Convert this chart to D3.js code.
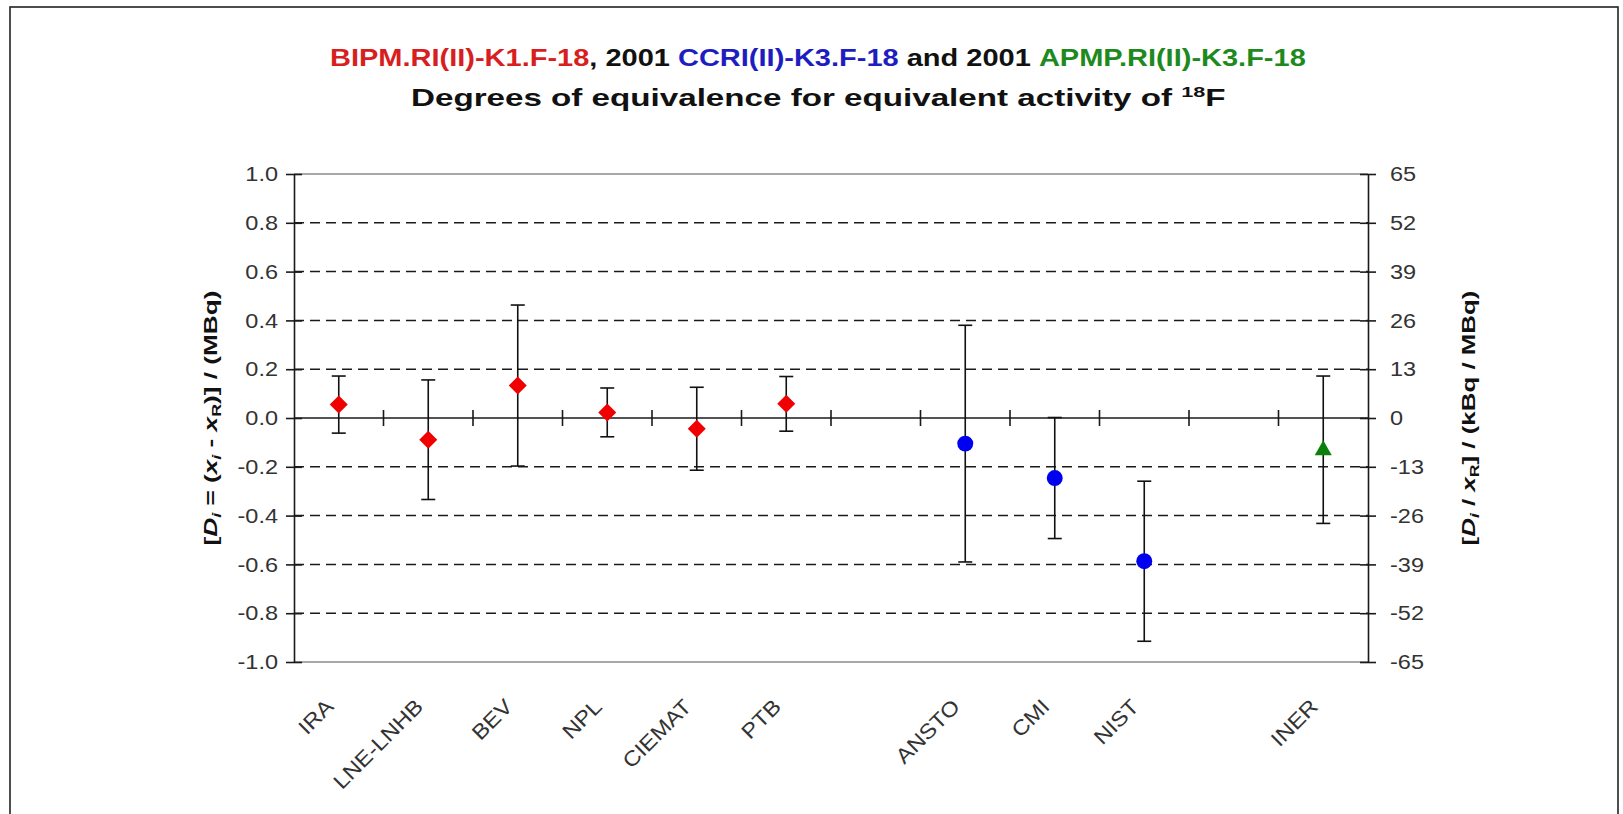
<!DOCTYPE html>
<meta charset="utf-8">
<script src="https://d3js.org/d3.v7.min.js"></script>
<style>
  body { margin: 0; background: #fff; }
  text { font-family: "Liberation Sans", Arial, sans-serif; }
</style>
<div id="chart"></div>
<script>

// categories along the x axis ("" = empty slot)
var cats = ["IRA", "LNE-LNHB", "BEV", "NPL", "CIEMAT", "PTB", "", "ANSTO", "CMI", "NIST", "", "INER"];

// BIPM.RI(II)-K1.F-18 : red diamonds
var k1Labs = ["IRA", "LNE-LNHB", "BEV", "NPL", "CIEMAT", "PTB"];
var k1D = [0.055, -0.089, 0.133, 0.023, -0.044, 0.058];
var k1U = [0.117, 0.245, 0.330, 0.100, 0.170, 0.112];

// CCRI(II)-K3.F-18 : blue circles
var ccLabs = ["ANSTO", "CMI", "NIST"];
var ccD = [-0.105, -0.246, -0.587];
var ccU = [0.485, 0.248, 0.328];

// APMP.RI(II)-K3.F-18 : green triangle
var apLabs = ["INER"];
var apD = [-0.130];
var apU = [0.302];

// tick labels
var yTicksL = [-1.0, -0.8, -0.6, -0.4, -0.2, 0.0, 0.2, 0.4, 0.6, 0.8, 1.0];
var yTicksR = [-65, -52, -39, -26, -13, 0, 13, 26, 39, 52, 65];

var W = 1623, H = 814;
var SX = 1.12;   // text in the original is rendered wider than plain Arial
var plot = {left: 294, right: 1368, top: 174, bottom: 662};

var svg = d3.select("#chart").append("svg")
    .attr("width", W)
    .attr("height", H);

// outer frame
svg.append("rect")
    .attr("x", 10).attr("y", 7)
    .attr("width", 1608).attr("height", 1000)
    .attr("fill", "none")
    .attr("stroke", "#222")
    .attr("stroke-width", 1.6);

var x = d3.scaleBand()
    .domain(d3.range(cats.length))
    .range([plot.left, plot.right]);
var bw = x.bandwidth();

var y = d3.scaleLinear().domain([-1, 1]).range([plot.bottom, plot.top]);
var yR = d3.scaleLinear().domain([-65, 65]).range([plot.bottom, plot.top]);

// dashed gridlines
svg.append("g").selectAll("line")
    .data(yTicksL.filter(function(v) { return v !== 0 && Math.abs(v) < 1; }))
    .enter().append("line")
    .attr("x1", plot.left).attr("x2", plot.right)
    .attr("y1", function(d) { return y(d); })
    .attr("y2", function(d) { return y(d); })
    .attr("stroke", "#1a1a1a")
    .attr("stroke-width", 1.5)
    .attr("stroke-dasharray", "10,6");

// grey plot border top / bottom
svg.append("g").selectAll("line")
    .data([-1, 1])
    .enter().append("line")
    .attr("x1", plot.left).attr("x2", plot.right)
    .attr("y1", function(d) { return y(d); })
    .attr("y2", function(d) { return y(d); })
    .attr("stroke", "#8a8a8a")
    .attr("stroke-width", 1.6);

// zero line with category ticks
svg.append("line")
    .attr("x1", plot.left).attr("x2", plot.right)
    .attr("y1", y(0)).attr("y2", y(0))
    .attr("stroke", "#1a1a1a")
    .attr("stroke-width", 1.6);
svg.append("g").selectAll("line")
    .data(d3.range(1, cats.length))
    .enter().append("line")
    .attr("x1", function(i) { return x(i); })
    .attr("x2", function(i) { return x(i); })
    .attr("y1", y(0) - 8).attr("y2", y(0) + 8)
    .attr("stroke", "#1a1a1a")
    .attr("stroke-width", 1.6);

// left axis
var gL = svg.append("g")
    .attr("transform", "translate(" + plot.left + ",0)")
    .call(d3.axisLeft(y).tickValues(yTicksL)
        .tickFormat(function(d) { return d.toFixed(1); })
        .tickSizeInner(8).tickSizeOuter(0));
gL.selectAll(".tick line").attr("x1", 8);
gL.selectAll(".tick text")
    .attr("x", -16 / SX)
    .attr("transform", "scale(" + SX + ",1)")
    .style("font-size", "21px")
    .attr("fill", "#333");

// right axis
var gR = svg.append("g")
    .attr("transform", "translate(" + plot.right + ",0)")
    .call(d3.axisRight(yR).tickValues(yTicksR)
        .tickFormat(function(d) { return String(d); })
        .tickSizeInner(8).tickSizeOuter(0));
gR.selectAll(".tick line").attr("x1", -8);
gR.selectAll(".tick text")
    .attr("x", 22 / SX)
    .attr("transform", "scale(" + SX + ",1)")
    .style("font-size", "21px")
    .attr("fill", "#333");

[gL, gR].forEach(function(g) {
    g.selectAll("path, line").attr("stroke", "#1a1a1a").attr("stroke-width", 1.6);
});

// category labels
svg.append("g").selectAll("text")
    .data(d3.range(cats.length).filter(function(i) { return cats[i] !== ""; }))
    .enter().append("text")
    .attr("transform", function(i) {
        return "translate(" + (x(i) + bw / 2 - 4) + ",708) rotate(-45) scale(" + SX + ",1)";
    })
    .attr("text-anchor", "end")
    .style("font-size", "21px")
    .attr("fill", "#333")
    .text(function(i) { return cats[i]; });

// series: error bars then markers
function series(labs, D, U, color, shape) {
    var data = labs.map(function(l, j) {
        return {cx: x(cats.indexOf(l)) + bw / 2, d: D[j], u: U[j]};
    });
    var g = svg.append("g");
    var eb = g.selectAll(".eb").data(data).enter().append("g")
        .attr("stroke", "#111").attr("stroke-width", 1.6);
    eb.append("line")
        .attr("x1", function(p) { return p.cx; }).attr("x2", function(p) { return p.cx; })
        .attr("y1", function(p) { return y(p.d + p.u); })
        .attr("y2", function(p) { return y(p.d - p.u); });
    [1, -1].forEach(function(s) {
        eb.append("line")
            .attr("x1", function(p) { return p.cx - 7; }).attr("x2", function(p) { return p.cx + 7; })
            .attr("y1", function(p) { return y(p.d + s * p.u); })
            .attr("y2", function(p) { return y(p.d + s * p.u); });
    });
    g.selectAll(".mk").data(data).enter().append("path")
        .attr("transform", function(p) { return "translate(" + p.cx + "," + y(p.d) + ")"; })
        .attr("d", shape)
        .attr("fill", color);
}
series(k1Labs, k1D, k1U, "#f00000", "M0,-9L9,0L0,9L-9,0Z");
series(ccLabs, ccD, ccU, "#0000f0", d3.symbol(d3.symbolCircle, 200)());
series(apLabs, apD, apU, "#0a800a", "M0,-9.5L8.5,5.5L-8.5,5.5Z");

// titles
function fitX(t, target) {
    var w = t.node().getComputedTextLength();
    return target / w;
}

var t1 = svg.append("text")
    .style("font-size", "24px")
    .style("font-weight", "bold");
[["BIPM.RI(II)-K1.F-18", "#d81e1e"], [", 2001 ", "#111"], ["CCRI(II)-K3.F-18", "#1e1ec0"],
 [" and 2001 ", "#111"], ["APMP.RI(II)-K3.F-18", "#1e8a1e"]].forEach(function(p) {
    t1.append("tspan").attr("fill", p[1]).text(p[0]);
});
t1.attr("transform", "translate(330,66) scale(" + fitX(t1, 975) + ",1)");

var t2 = svg.append("text")
    .style("font-size", "23px")
    .style("font-weight", "bold")
    .attr("fill", "#111");
t2.append("tspan").text("Degrees of equivalence for equivalent activity of ");
t2.append("tspan").attr("dy", -9).style("font-size", "15px").text("18");
t2.append("tspan").attr("dy", 9).text("F");
t2.attr("transform", "translate(411,106) scale(" + fitX(t2, 815) + ",1)");

// axis titles
function axisTitle(parts, cx, cy, len) {
    var t = svg.append("text")
        .attr("text-anchor", "middle")
        .style("font-size", "19px")
        .style("font-weight", "bold")
        .attr("fill", "#111");
    parts.forEach(function(p) {
        var ts = t.append("tspan").text(p.s);
        if (p.it) ts.style("font-style", "italic");
        if (p.sub) ts.style("font-size", "13px").attr("dy", 4);
        if (p.back) ts.attr("dy", -4);
    });
    var k = fitX(t, len);
    t.attr("transform", "translate(" + cx + "," + cy + ") rotate(-90) scale(" + k + ",1)")
        .attr("y", 7);
}
axisTitle([
    {s: "["}, {s: "D", it: true}, {s: "i", it: true, sub: true},
    {s: " = (", back: true}, {s: "x", it: true}, {s: "i", it: true, sub: true},
    {s: " - ", back: true}, {s: "x", it: true}, {s: "R", sub: true},
    {s: ")] / (MBq)", back: true}
], 210, 418, 255);
axisTitle([
    {s: "["}, {s: "D", it: true}, {s: "i", it: true, sub: true},
    {s: " / ", back: true}, {s: "x", it: true}, {s: "R", sub: true},
    {s: "] / (kBq / MBq)", back: true}
], 1468, 418, 255);

</script>
